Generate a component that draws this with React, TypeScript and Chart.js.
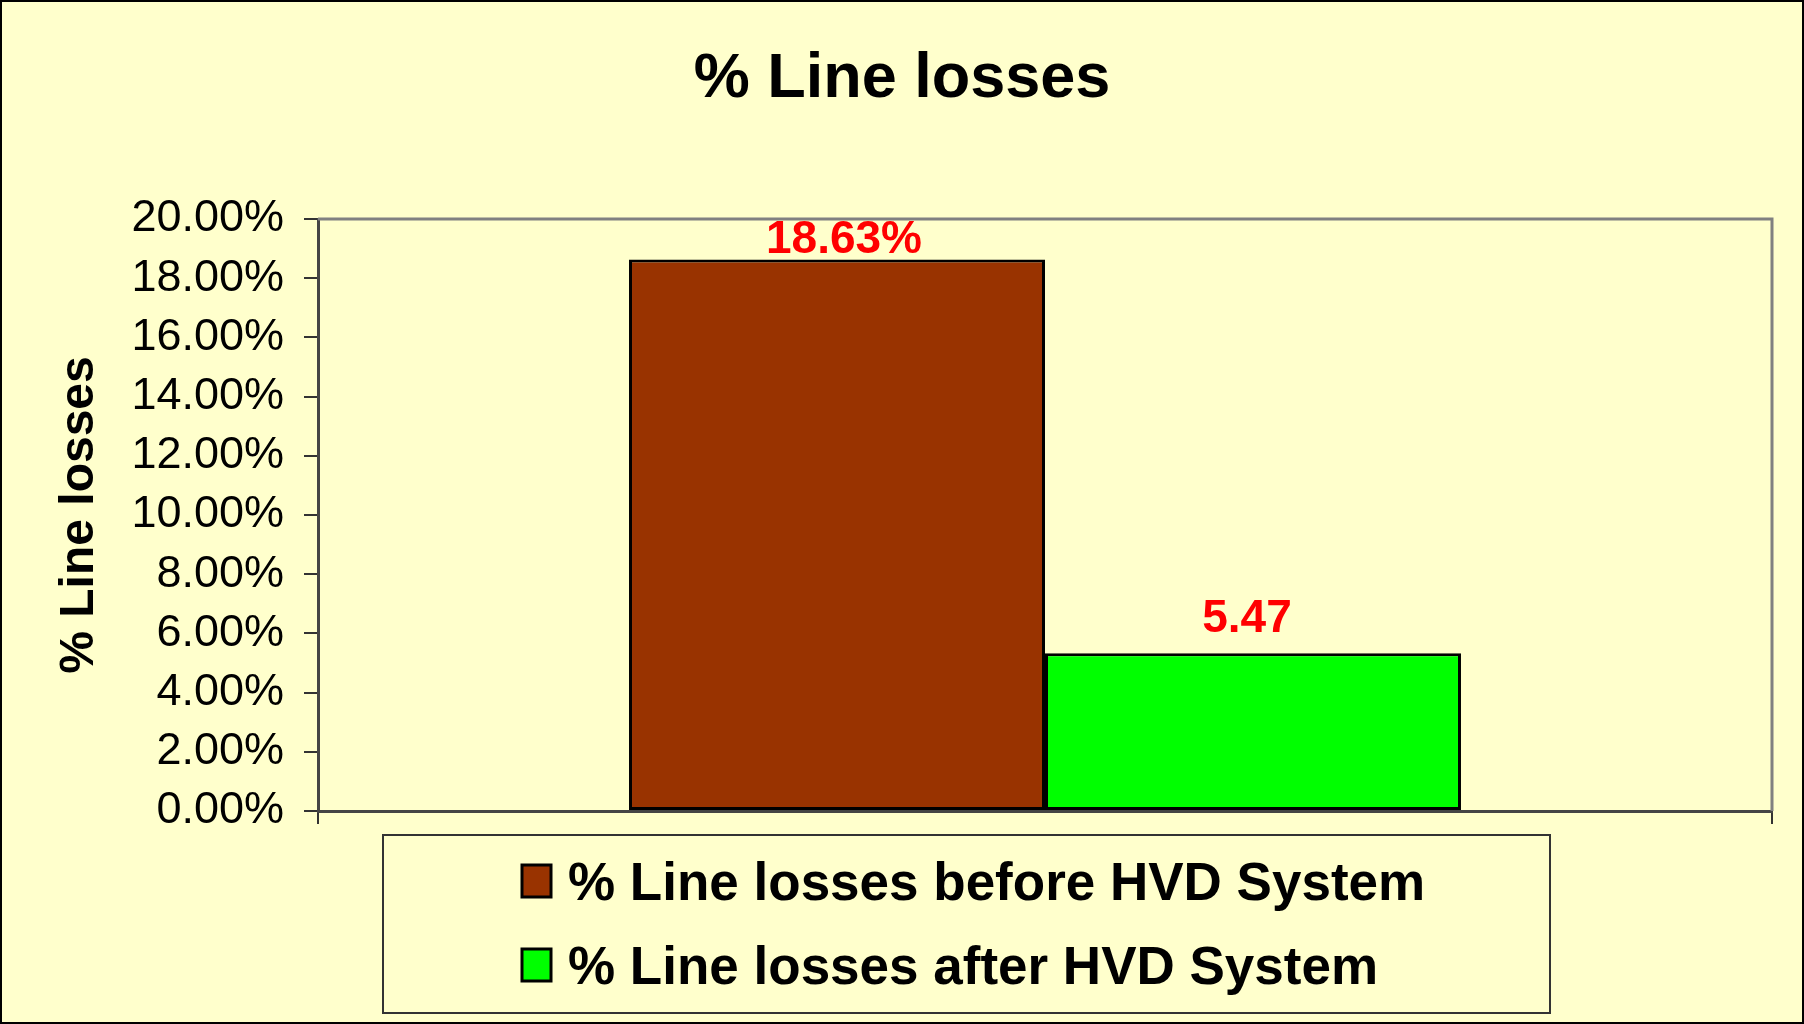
import React, { useEffect, useRef } from "react";
import { Chart, registerables } from "chart.js";

Chart.register(...registerables);

// ---- Data ----
const categories = [""];
const seriesNames = ["% Line losses before HVD System", "% Line losses after HVD System"];
const beforeValues = [18.63];
const afterValues = [5.33];
const dataLabelTexts = ["18.63%", "5.47"];
const chartTitle = "% Line losses";
const yAxisTitle = "% Line losses";
const yMin = 0;
const yMax = 20;
const yStep = 2;

const FONT = '"Liberation Sans", Arial, Helvetica, sans-serif';
const BG = "#FFFFCC";
const W = 1804;
const H = 1024;

const backgroundPlugin = {
  id: "bgFrame",
  beforeDraw(chart: any) {
    const ctx = chart.ctx;
    ctx.save();
    ctx.fillStyle = BG;
    ctx.fillRect(0, 0, chart.width, chart.height);
    ctx.strokeStyle = "#000";
    ctx.lineWidth = 2;
    ctx.strokeRect(1, 1, chart.width - 2, chart.height - 2);
    // title
    ctx.fillStyle = "#000";
    ctx.font = `bold 63px ${FONT}`;
    ctx.textAlign = "center";
    ctx.textBaseline = "alphabetic";
    ctx.fillText(chartTitle, chart.width / 2, 97);
    ctx.restore();
  },
  beforeDatasetsDraw(chart: any) {
    const { ctx, chartArea } = chart;
    ctx.save();
    ctx.strokeStyle = "#808080";
    ctx.lineWidth = 3;
    ctx.beginPath();
    ctx.moveTo(chartArea.left, chartArea.top);
    ctx.lineTo(chartArea.right, chartArea.top);
    ctx.lineTo(chartArea.right, chartArea.bottom);
    ctx.stroke();
    ctx.restore();
  },
};

const dataLabelPlugin = {
  id: "dataLabels",
  afterDatasetsDraw(chart: any, _args: any, opts: any) {
    const ctx = chart.ctx;
    const offsets: number[] = opts.offsets || [8, 8];
    const shifts: number[] = opts.shifts || [0, 0];
    ctx.save();
    ctx.fillStyle = "#FF0000";
    ctx.font = `bold 46px ${FONT}`;
    ctx.textAlign = "center";
    ctx.textBaseline = "alphabetic";
    chart.data.datasets.forEach((_ds: any, i: number) => {
      const meta = chart.getDatasetMeta(i);
      meta.data.forEach((bar: any) => {
        ctx.fillText(dataLabelTexts[i], bar.x + shifts[i], bar.y - offsets[i]);
      });
    });
    ctx.restore();
  },
};

const boxLegendPlugin = {
  id: "boxLegend",
  afterDraw(chart: any) {
    const ctx = chart.ctx;
    const box = { x: 383, y: 835, w: 1167, h: 178 };
    ctx.save();
    ctx.strokeStyle = "#333";
    ctx.lineWidth = 2;
    ctx.strokeRect(box.x, box.y, box.w, box.h);
    const rowCenters = [881, 965];
    chart.data.datasets.forEach((ds: any, i: number) => {
      const cy = rowCenters[i];
      ctx.fillStyle = ds.backgroundColor;
      ctx.fillRect(522, cy - 16, 29, 32);
      ctx.strokeStyle = "#000";
      ctx.lineWidth = 3;
      ctx.strokeRect(522, cy - 16, 29, 32);
      ctx.fillStyle = "#000";
      ctx.font = `bold 53px ${FONT}`;
      ctx.textAlign = "left";
      ctx.textBaseline = "alphabetic";
      ctx.fillText(ds.label, 568, cy + 19);
    });
    ctx.restore();
  },
};

export default function App() {
  const canvasRef = useRef<HTMLCanvasElement | null>(null);

  useEffect(() => {
    document.body.style.margin = "0";
    const canvas = canvasRef.current;
    if (!canvas) return;
    const chart = new Chart(canvas, {
      type: "bar",
      data: {
        labels: categories,
        datasets: [
          {
            label: seriesNames[0],
            data: beforeValues,
            backgroundColor: "#993300",
            borderColor: "#000000",
            borderWidth: 3,
            borderSkipped: false,
          },
          {
            label: seriesNames[1],
            data: afterValues,
            backgroundColor: "#00FF00",
            borderColor: "#000000",
            borderWidth: 3,
            borderSkipped: false,
          },
        ],
      },
      options: {
        animation: false,
        responsive: false,
        devicePixelRatio: 1,
        layout: { padding: { top: 219, left: 0, right: 32, bottom: 0 } },
        datasets: {
          bar: { categoryPercentage: 0.5722, barPercentage: 1 },
        },
        plugins: {
          legend: { display: false },
          title: { display: false },
          tooltip: { enabled: false },
          dataLabels: { offsets: [7, 21], shifts: [7, -6] },
        } as any,
        scales: {
          x: {
            ticks: { display: false },
            grid: {
              display: true,
              drawOnChartArea: false,
              drawTicks: true,
              tickLength: 13,
              color: "#333",
              lineWidth: 2,
              offset: true,
            },
            border: { display: true, color: "#454545", width: 3 },
            afterFit: (s: any) => {
              s.height = H - 811;
            },
          },
          y: {
            min: yMin,
            max: yMax,
            ticks: {
              stepSize: yStep,
              color: "#000",
              font: { family: FONT, size: 45 },
              padding: 20,
              callback: (v: any) => Number(v).toFixed(2) + "%",
            },
            grid: {
              display: true,
              drawOnChartArea: false,
              drawTicks: true,
              tickLength: 14,
              color: "#333",
              lineWidth: 2,
            },
            border: { display: true, color: "#454545", width: 3 },
            title: {
              display: true,
              text: yAxisTitle,
              color: "#000",
              font: { family: FONT, size: 48, weight: "bold" },
              padding: { top: 51, bottom: 0 },
            },
            afterFit: (s: any) => {
              s.width = 318;
            },
          },
        },
      },
      plugins: [backgroundPlugin, dataLabelPlugin, boxLegendPlugin],
    });
    return () => chart.destroy();
  }, []);

  return (
    <div style={{ position: "fixed", left: 0, top: 0, width: W, height: H }}>
      <canvas ref={canvasRef} width={W} height={H} style={{ display: "block", width: W, height: H }} />
    </div>
  );
}
